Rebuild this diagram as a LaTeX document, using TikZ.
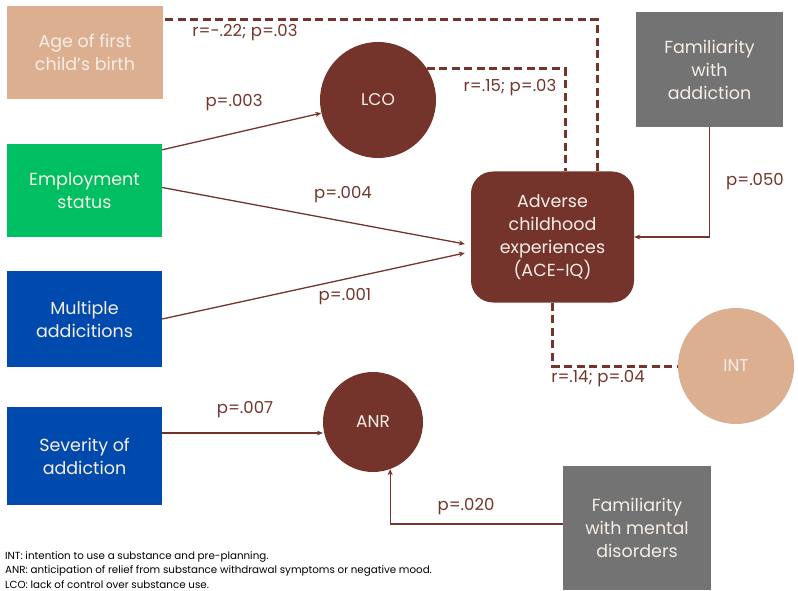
\documentclass[tikz,border=0pt]{standalone}
\usepackage{fontspec}
\setmainfont{Poppins}
\usetikzlibrary{calc,arrows.meta}
\definecolor{brown}{HTML}{74342C}
\definecolor{tan}{HTML}{DCAF91}
\definecolor{grn}{HTML}{00BF63}
\definecolor{blu}{HTML}{004AAD}
\definecolor{gry}{HTML}{737373}
\definecolor{cream}{HTML}{F6EEE6}
\tikzset{
  box/.style={rectangle, inner sep=2pt, align=center, text=cream, font=\fontsize{17.5}{23}\selectfont},
  circ/.style={circle, fill=brown, text=cream, inner sep=0pt, font=\fontsize{17}{20}\selectfont},
  arr/.style={draw=brown, line width=1.3pt, -{Stealth[length=6pt,width=5pt]}},
  dsh/.style={draw=brown, line width=3pt, dash pattern=on 8pt off 4.5pt},
  lbl/.style={text=brown, font=\fontsize{16.5}{19}\selectfont},
  legend/.style={anchor=west, text=black, font=\fontsize{10.3}{12}\selectfont, inner sep=0pt}
}
\begin{document}
\begin{tikzpicture}[x=1pt,y=-1pt]
\useasboundingbox (0,0) rectangle (798,591);
\node[box, fill=tan, minimum width=156pt, minimum height=93pt] (age) at (85,52.5) {Age of first\\child’s birth};
\node[box, fill=grn, minimum width=155pt, minimum height=93pt] (emp) at (84.5,190.5) {Employment\\status};
\node[box, fill=blu, minimum width=155pt, minimum height=96pt] (mult) at (84.5,319) {Multiple\\addicitions};
\node[box, fill=blu, minimum width=155pt, minimum height=98pt] (sev) at (84.5,456) {Severity of\\addiction};
\node[box, fill=gry, minimum width=147pt, minimum height=115pt] (famadd) at (709.5,69.5) {Familiarity\\with\\addiction};
\node[box, fill=gry, minimum width=148pt, minimum height=124pt] (fammd) at (637,528) {Familiarity\\with mental\\disorders};
\node[box, fill=brown, rounded corners=22pt, minimum width=163pt, minimum height=131pt] (ace) at (552.5,237) {Adverse\\childhood\\experiences\\(ACE-IQ)};
\node[circ, minimum size=116pt] (lco) at (378,100) {LCO};
\node[circ, minimum size=100pt] (anr) at (373,422) {ANR};
\node[circ, fill=tan, minimum size=116pt] (int) at (736,366) {INT};

% dashed correlations
\draw[dsh] ($(age.north east)+(2,14)$) -| ($(ace.north)+(44.5,0)$);
\draw[dsh] (lco.33) -| ($(ace.north)+(12.5,0)$);
\draw[dsh] (ace.south) |- (int.west);

% arrows
\draw[arr] ($(emp.north east)+(0,6)$) -- (lco);
\draw[arr] ($(emp.east)+(0,-3)$) -- ($(ace.west)+(-6,7)$);
\draw[arr] (mult.east) -- ($(ace.west)+(-6,16)$);
\draw[arr] (famadd.south) |- (ace.east);
\coordinate (s1) at ($(sev.east)+(0,-23)$);
\draw[arr] (s1) -- (s1 -| anr.west);
\draw[arr] ($(fammd.west)+(0,-4)$) -| (anr.-70);

% labels
\node[lbl] (l1) at (245,33) {r=-.22; p=.03};
\node[lbl] (l2) at (234,103) {p=.003};
\node[lbl] (l3) at (343,195) {p=.004};
\node[lbl] (l4) at (345,297) {p=.001};
\node[lbl] (l5) at (510,88) {r=.15; p=.03};
\node[lbl] (l6) at (755,182) {p=.050};
\node[lbl] (l7) at (598,379) {r=.14; p=.04};
\node[lbl] (l8) at (245,410) {p=.007};
\node[lbl] (l9) at (466,507) {p=.020};

% legend
\node[legend] (g1) at (5,557) {INT: intention to use a substance and pre-planning.};
\node[legend] (g2) at (5,571) {ANR: anticipation of relief from substance withdrawal symptoms or negative mood.};
\node[legend] (g3) at (5,585) {LCO: lack of control over substance use.};
\end{tikzpicture}
\end{document}
